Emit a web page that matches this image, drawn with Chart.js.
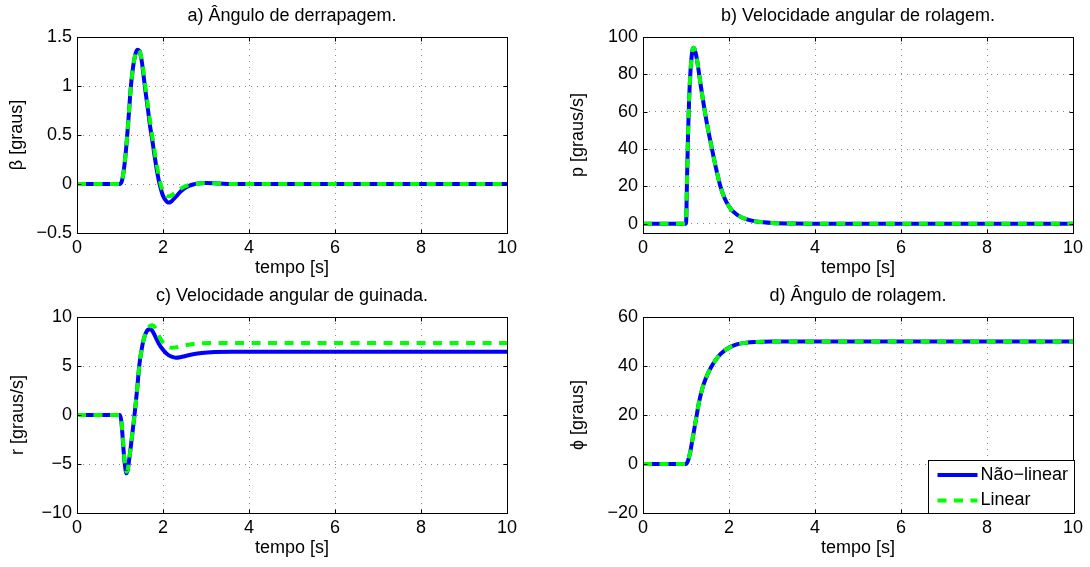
<!DOCTYPE html>
<html>
<head>
<meta charset="utf-8">
<script src="https://cdn.jsdelivr.net/npm/chart.js@4/dist/chart.umd.min.js"></script>
<style>
  body { margin: 0; background: #fff; width: 1090px; height: 567px; position: relative; overflow: hidden; }
  canvas { position: absolute; }
</style>
</head>
<body>
<canvas id="chartA" width="560" height="281" style="left:0px;top:0px"></canvas>
<canvas id="chartB" width="530" height="281" style="left:560px;top:0px"></canvas>
<canvas id="chartC" width="560" height="286" style="left:0px;top:281px"></canvas>
<canvas id="chartD" width="530" height="286" style="left:560px;top:281px"></canvas>
<script>
var tempoTicks = [0, 2, 4, 6, 8, 10];

// a) angulo de derrapagem (beta)
var tBeta = [0, 1.0, 1.05, 1.1, 1.15, 1.2, 1.25, 1.3, 1.35, 1.4, 1.45, 1.5, 1.55, 1.6, 1.65, 1.7, 1.75, 1.8, 1.85, 1.9,
  1.95, 2.0, 2.05, 2.1, 2.15, 2.2, 2.3, 2.4, 2.5, 2.6, 2.7, 2.8, 3.0, 3.3, 3.6, 10];
var betaNaoLinear = [0, 0, 0.04, 0.18, 0.40, 0.68, 0.98, 1.18, 1.31, 1.37, 1.36, 1.27, 1.10, 0.92, 0.76, 0.59, 0.45, 0.30, 0.16, 0.04,
  -0.05, -0.12, -0.16, -0.185, -0.19, -0.175, -0.13, -0.08, -0.045, -0.02, -0.005, 0.005, 0.01, 0.005, 0, 0];
var betaLinear = [0, 0, 0.04, 0.18, 0.40, 0.68, 0.97, 1.18, 1.31, 1.37, 1.36, 1.28, 1.13, 0.96, 0.80, 0.64, 0.49, 0.35, 0.21, 0.09,
  -0.01, -0.08, -0.11, -0.125, -0.125, -0.115, -0.085, -0.05, -0.025, -0.01, 0, 0.005, 0.01, 0.005, 0, 0];
var betaTicks = [-0.5, 0, 0.5, 1, 1.5];

// b) velocidade angular de rolagem (p)
var tP = [0, 1.0, 1.025, 1.05, 1.075, 1.1, 1.125, 1.15, 1.175, 1.2, 1.25, 1.3, 1.35, 1.4, 1.45, 1.5, 1.6, 1.7, 1.8, 1.9,
  2.0, 2.1, 2.2, 2.4, 2.6, 2.8, 3.0, 3.5, 4, 10];
var pNaoLinear = [0, 0, 25, 50, 68, 80, 88, 93, 94.3, 93.5, 88.5, 81, 73, 65.5, 58.5, 52, 40.5, 29.5, 20, 13.5,
  9.3, 6.4, 4.6, 2.4, 1.3, 0.7, 0.35, 0.05, 0, 0];
var pLinear = [0, 0, 25, 50, 68, 80, 88, 93, 94.2, 93.5, 88.5, 81, 73, 65.5, 58.5, 52, 40.5, 29.5, 20, 13.5,
  9.3, 6.4, 4.6, 2.4, 1.3, 0.7, 0.35, 0.05, 0, 0];
var pTicks = [0, 20, 40, 60, 80, 100];

// c) velocidade angular de guinada (r)
var tR = [0, 1.0, 1.03, 1.06, 1.09, 1.12, 1.15, 1.18, 1.2, 1.25, 1.3, 1.35, 1.4, 1.45, 1.5, 1.55, 1.6, 1.65, 1.7, 1.75,
  1.8, 1.85, 1.9, 2.0, 2.1, 2.2, 2.3, 2.4, 2.5, 2.7, 2.9, 3.2, 3.6, 10];
var rNaoLinear = [0, 0, -0.6, -2.2, -4.0, -5.3, -5.95, -5.6, -5.0, -3.3, -1.4, 0.5, 2.7, 5.1, 6.6, 7.7, 8.35, 8.7, 8.75, 8.6,
  8.2, 7.75, 7.3, 6.65, 6.2, 5.95, 5.85, 5.9, 6.0, 6.2, 6.33, 6.42, 6.45, 6.45];
var rLinear = [0, 0, -0.5, -2.0, -3.8, -5.1, -5.8, -5.6, -5.0, -3.3, -1.4, 0.5, 2.7, 5.0, 6.6, 7.7, 8.4, 8.85, 9.1, 9.15,
  9.0, 8.6, 8.1, 7.4, 7.0, 6.86, 6.9, 7.0, 7.1, 7.25, 7.32, 7.35, 7.35, 7.35];
var rTicks = [-10, -5, 0, 5, 10];

// d) angulo de rolagem (phi)
var tPhi = [0, 1.0, 1.05, 1.1, 1.15, 1.2, 1.25, 1.3, 1.35, 1.4, 1.5, 1.6, 1.7, 1.8, 1.9, 2.0, 2.2, 2.4, 2.6, 3.0, 10];
var phiNaoLinear = [0, 0, 1.5, 5, 10, 15, 20, 25, 28.8, 32, 36.6, 40, 42.7, 44.8, 46.4, 47.5, 48.9, 49.5, 49.8, 50, 50];
var phiLinear = [0, 0, 1.5, 5, 10, 15, 20, 25, 28.8, 32, 36.6, 40, 42.7, 44.8, 46.4, 47.5, 48.9, 49.5, 49.8, 50, 50];
var phiTicks = [-20, 0, 20, 40, 60];

var fontFamily = "'Liberation Sans', Arial, Helvetica, sans-serif";
var fontSize = 18;
Chart.defaults.font.family = fontFamily;
Chart.defaults.font.size = fontSize;
Chart.defaults.color = '#000';

function toPoints(t, y) {
  return t.map((x, i) => ({x: x, y: y[i]}))
}

function minusSign(v) {
  return String(v).replace('-', '\u2212')
}

// box around the axes plus the small inward tick marks on all four sides
var frameTicks = {
  id: 'frameTicks',
  afterDraw(chart) {
    var ctx = chart.ctx;
    var a = chart.chartArea;
    var xs = chart.scales.x, ys = chart.scales.y;
    var L = Math.round(a.left) + 0.5, R = Math.round(a.right) + 0.5;
    var T = Math.round(a.top) + 0.5, B = Math.round(a.bottom) + 0.5;
    ctx.save();
    ctx.strokeStyle = '#000';
    ctx.lineWidth = 1;
    ctx.setLineDash([]);
    ctx.beginPath();
    xs.ticks.forEach(tk => {
      var px = Math.round(xs.getPixelForValue(tk.value)) + 0.5;
      ctx.moveTo(px, B); ctx.lineTo(px, B - 4);
      ctx.moveTo(px, T); ctx.lineTo(px, T + 4);
    })
    ys.ticks.forEach(tk => {
      var py = Math.round(ys.getPixelForValue(tk.value)) + 0.5;
      ctx.moveTo(L, py); ctx.lineTo(L + 4, py);
      ctx.moveTo(R, py); ctx.lineTo(R - 4, py);
    })
    ctx.stroke();
    ctx.strokeRect(L, T, R - L, B - T);
    ctx.restore();
  }
}

// legend box in the lower right corner of the axes
var legendBox = {
  id: 'legendBox',
  afterDraw(chart) {
    var ctx = chart.ctx;
    var a = chart.chartArea;
    var x = Math.round(a.right) - 145 + 0.5;
    var y = Math.round(a.bottom) - 53 + 0.5;
    ctx.save();
    ctx.fillStyle = '#fff';
    ctx.fillRect(x, y, 146, 53);
    ctx.strokeStyle = '#000';
    ctx.lineWidth = 1;
    ctx.strokeRect(x, y, 146, 53);
    ctx.font = fontSize + 'px ' + fontFamily;
    ctx.textBaseline = 'middle';
    chart.data.datasets.forEach((ds, i) => {
      var ly = y + 14.5 + i * 25.5;
      ctx.strokeStyle = ds.borderColor;
      ctx.lineWidth = ds.borderWidth;
      ctx.setLineDash(ds.borderDash || []);
      ctx.beginPath();
      ctx.moveTo(x + 9, ly);
      ctx.lineTo(x + 49, ly);
      ctx.stroke();
      ctx.setLineDash([]);
      ctx.fillStyle = '#000';
      ctx.fillText(ds.label, x + 52, ly);
    })
    ctx.restore();
  }
}

function makeSubplot(id, cfg) {
  var ctx = document.getElementById(id).getContext('2d');
  return new Chart(ctx, {
    type: 'line',
    data: {
      datasets: [{
        label: 'N\u00e3o\u2212linear',
        data: toPoints(cfg.t, cfg.naoLinear),
        borderColor: '#0000ff',
        borderWidth: 4,
        order: 1
      }, {
        label: 'Linear',
        data: toPoints(cfg.t, cfg.linear),
        borderColor: '#00ff00',
        borderWidth: 4,
        borderDash: [9, 7.5],
        order: 0
      }]
    },
    options: {
      responsive: false,
      animation: false,
      layout: {padding: {left: 0, top: 0, bottom: 0, right: cfg.padRight}},
      elements: {
        point: {radius: 0},
        line: {cubicInterpolationMode: 'monotone', fill: false}
      },
      plugins: {
        legend: {display: false},
        tooltip: {enabled: false},
        title: {
          display: true,
          text: cfg.title,
          fullSize: false,
          font: {size: fontSize, weight: 'normal'},
          padding: cfg.titlePad,
          color: '#000'
        }
      },
      scales: {
        x: {
          type: 'linear',
          min: 0,
          max: 10,
          afterBuildTicks: s => { s.ticks = tempoTicks.map(v => ({value: v})) },
          afterFit: s => { s.height = cfg.xAxisHeight },
          ticks: {padding: 4.5, maxRotation: 0, autoSkip: false, color: '#000'},
          grid: {color: '#8a8a8a', lineWidth: 1, drawTicks: false},
          border: {display: false, dash: [1, 5]},
          title: {display: true, text: 'tempo [s]', padding: {top: 0, bottom: cfg.xTitlePad}, color: '#000'}
        },
        y: {
          type: 'linear',
          min: cfg.yMin,
          max: cfg.yMax,
          afterBuildTicks: s => { s.ticks = cfg.yTicks.map(v => ({value: v})) },
          afterFit: s => { s.width = cfg.yAxisWidth },
          ticks: {padding: 5, color: '#000', callback: v => minusSign(v)},
          grid: {color: '#8a8a8a', lineWidth: 1, drawTicks: false},
          border: {display: false, dash: [1, 5]},
          title: {display: true, text: cfg.yLabel, padding: {top: cfg.yTitlePad, bottom: 0}, color: '#000'}
        }
      }
    },
    plugins: [frameTicks].concat(cfg.extra || [])
  })
}

var chartA = makeSubplot('chartA', {
  title: 'a) \u00c2ngulo de derrapagem.', yLabel: '\u03b2 [graus]',
  t: tBeta, naoLinear: betaNaoLinear, linear: betaLinear,
  yTicks: betaTicks, yMin: -0.5, yMax: 1.5,
  yAxisWidth: 77, yTitlePad: 6.2, xAxisHeight: 48, xTitlePad: 1.7,
  titlePad: {top: 5.1, bottom: 10.3}, padRight: 53
});

// p axis starts a bit below zero, as in the original figure
var chartB = makeSubplot('chartB', {
  title: 'b) Velocidade angular de rolagem.', yLabel: 'p [graus/s]',
  t: tP, naoLinear: pNaoLinear, linear: pLinear,
  yTicks: pTicks, yMin: -5, yMax: 100,
  yAxisWidth: 83, yTitlePad: 7.2, xAxisHeight: 48, xTitlePad: 1.7,
  titlePad: {top: 5.1, bottom: 10.3}, padRight: 17
});

var chartC = makeSubplot('chartC', {
  title: 'c) Velocidade angular de guinada.', yLabel: 'r [graus/s]',
  t: tR, naoLinear: rNaoLinear, linear: rLinear,
  yTicks: rTicks, yMin: -10, yMax: 10,
  yAxisWidth: 77, yTitlePad: 7.2, xAxisHeight: 54, xTitlePad: 7.7,
  titlePad: {top: 4.5, bottom: 9.9}, padRight: 53
});

var chartD = makeSubplot('chartD', {
  title: 'd) \u00c2ngulo de rolagem.', yLabel: '\u03d5 [graus]',
  t: tPhi, naoLinear: phiNaoLinear, linear: phiLinear,
  yTicks: phiTicks, yMin: -20, yMax: 60,
  yAxisWidth: 83, yTitlePad: 7.2, xAxisHeight: 54, xTitlePad: 7.7,
  titlePad: {top: 4.5, bottom: 9.9}, padRight: 17,
  extra: [legendBox]
});
</script>
</body>
</html>
